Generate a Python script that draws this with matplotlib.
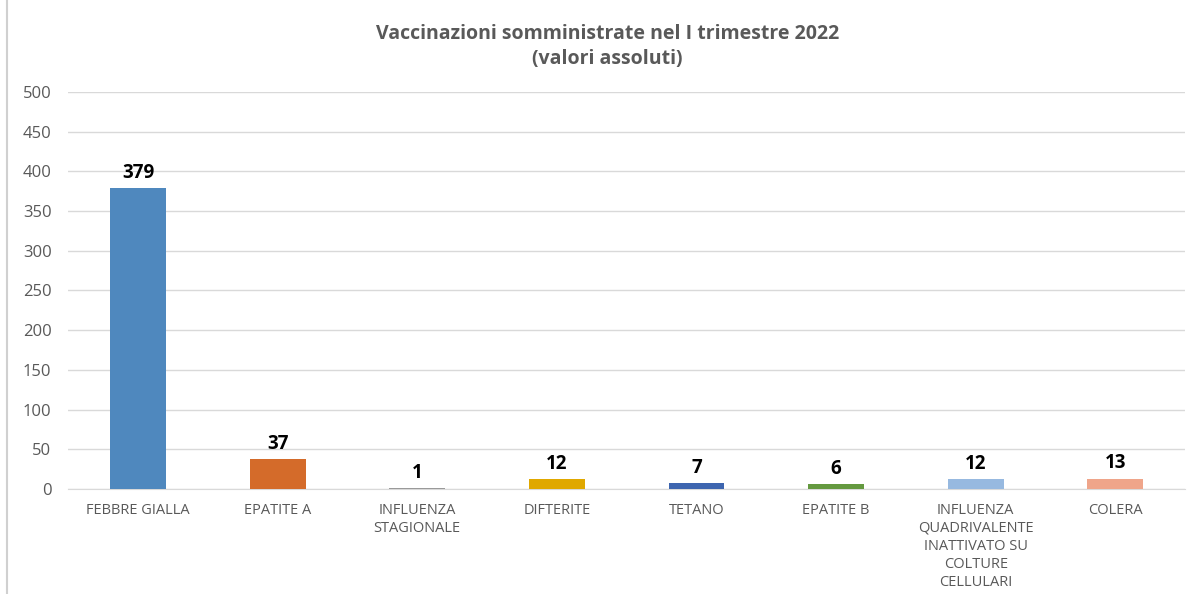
import matplotlib.pyplot as plt

categories = ["FEBBRE GIALLA", "EPATITE A", "INFLUENZA\nSTAGIONALE", "DIFTERITE", "TETANO",
              "EPATITE B", "INFLUENZA\nQUADRIVALENTE\nINATTIVATO SU\nCOLTURE\nCELLULARI", "COLERA"]
values = [379, 37, 1, 12, 7, 6, 12, 13]
colors = ["#4F88BE", "#D46B2A", "#9A9A9A", "#E0A800", "#3D65AF", "#64993F", "#97B9E0", "#EFA58A"]
yticks = [0, 50, 100, 150, 200, 250, 300, 350, 400, 450, 500]

plt.rcParams["font.family"] = ["Open Sans", "DejaVu Sans"]

fig = plt.figure(figsize=(11.96, 5.94), dpi=100)
ax = fig.add_axes([0.057, 0.177, 0.934, 0.668])

x = range(len(categories))
bars = ax.bar(x, values, width=0.4, color=colors, zorder=3)
for xi, v in zip(x, values):
    ax.text(xi, v + 7, str(v), ha="center", va="bottom", fontsize=13.5,
            fontweight="bold", color="black")

ax.set_xlim(-0.5, len(categories) - 0.5)
ax.set_ylim(0, 500)
ax.set_yticks(yticks)
ax.set_xticks(list(x))
ax.set_xticklabels(categories, fontsize=10.5, color="#595959", linespacing=1.28)
ax.tick_params(axis="y", labelsize=12, labelcolor="#595959", length=0, pad=12)
ax.tick_params(axis="x", length=0, pad=10)
ax.grid(axis="y", color="#D9D9D9", linewidth=1, zorder=0)
for s in ["top", "right", "left"]:
    ax.spines[s].set_visible(False)
ax.spines["bottom"].set_color("#D9D9D9")

fig.text(0.508, 0.943, "Vaccinazioni somministrate nel I trimestre 2022", ha="center",
         va="center", fontsize=14, fontweight="bold", color="#595959")
fig.text(0.508, 0.900, "(valori assoluti)", ha="center", va="center", fontsize=14,
         fontweight="bold", color="#595959")

# cornice del grafico a sinistra
fig.add_artist(plt.Line2D([0.006, 0.006], [0, 1], color="#D0D0D0", linewidth=1.5))

plt.savefig("out.png", dpi=100)
